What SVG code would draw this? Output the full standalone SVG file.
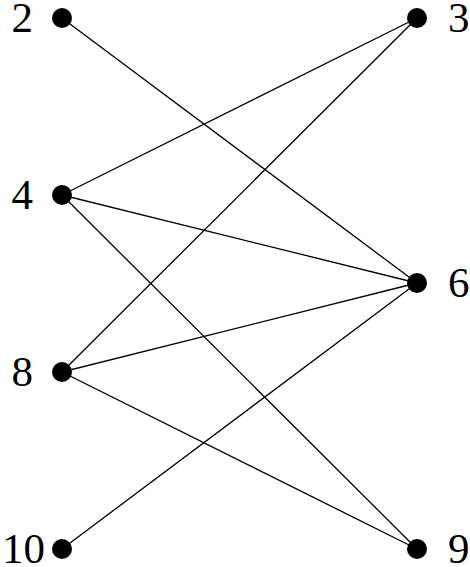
<svg xmlns="http://www.w3.org/2000/svg" width="470" height="567" viewBox="0 0 470 567">
<style>
.e{stroke:#000;stroke-width:1.3;fill:none}
.n{fill:#000}
text{font-family:'Liberation Serif','Times New Roman',serif;font-size:43px;fill:#000}
.r{text-anchor:start}
.le{text-anchor:end}
</style>
<rect width="470" height="567" fill="#fff"/>
<g id="connectors">
<line class="e" x1="62" y1="18" x2="417" y2="283"/>
<line class="e" x1="62" y1="195" x2="417" y2="18"/>
<line class="e" x1="62" y1="195" x2="417" y2="283"/>
<line class="e" x1="62" y1="195" x2="417" y2="549"/>
<line class="e" x1="62" y1="372" x2="417" y2="18"/>
<line class="e" x1="62" y1="372" x2="417" y2="283"/>
<line class="e" x1="62" y1="372" x2="417" y2="549"/>
<line class="e" x1="62" y1="549" x2="417" y2="283"/>
</g>
<g id="n2"><circle class="n" cx="62" cy="18" r="10"/><text class="le" x="33" y="32" font-family="Liberation Serif">2</text></g>
<g id="n4"><circle class="n" cx="62" cy="195" r="10"/><text class="le" x="33" y="209" font-family="Liberation Serif">4</text></g>
<g id="n8"><circle class="n" cx="62" cy="372" r="10"/><text class="le" x="33" y="386" font-family="Liberation Serif">8</text></g>
<g id="n10"><circle class="n" cx="62" cy="549" r="10"/><text class="le" x="45" y="563" font-family="Liberation Serif">10</text></g>
<g id="n3"><circle class="n" cx="417" cy="18" r="10"/><text class="r" x="448" y="32" font-family="Liberation Serif">3</text></g>
<g id="n6"><circle class="n" cx="417" cy="283" r="10"/><text class="r" x="448" y="297" font-family="Liberation Serif">6</text></g>
<g id="n9"><circle class="n" cx="417" cy="549" r="10"/><text class="r" x="448" y="563" font-family="Liberation Serif">9</text></g>
</svg>
